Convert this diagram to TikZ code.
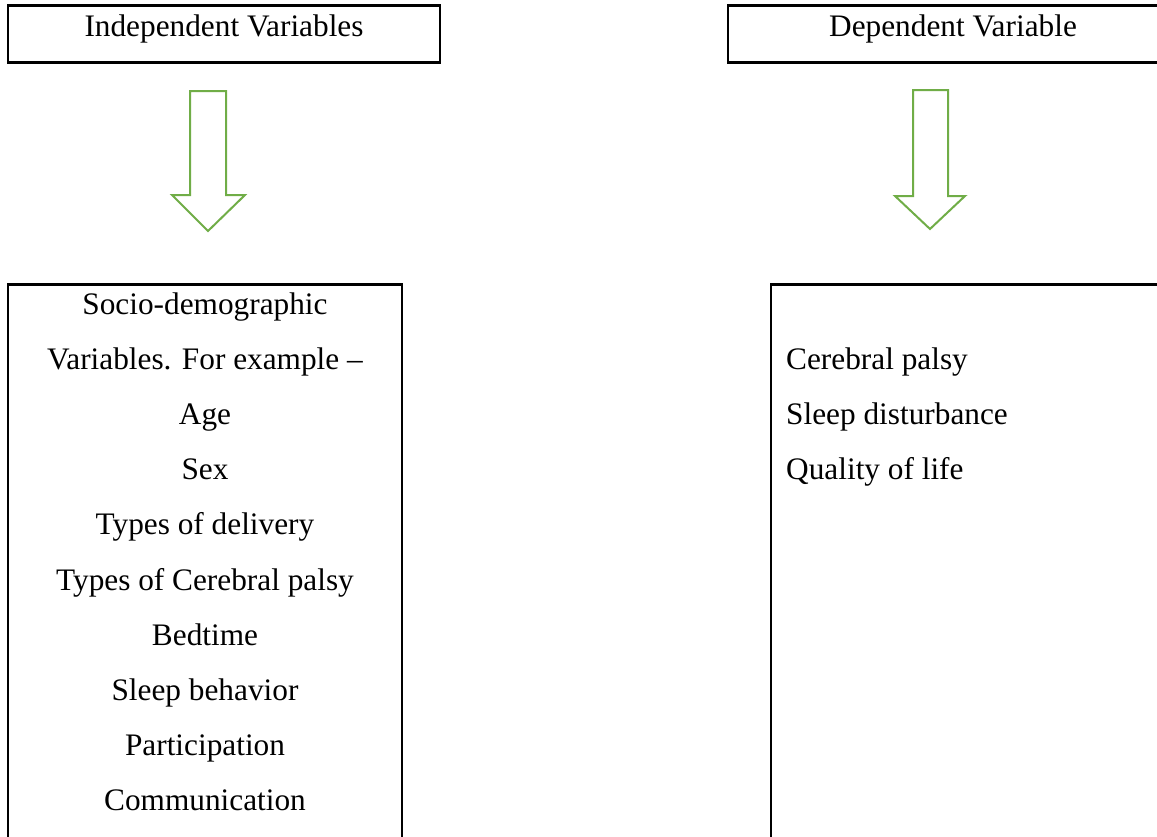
\documentclass[tikz,border=0pt]{standalone}
\usepackage{fontspec}
\setmainfont{Liberation Serif}
\definecolor{arrowgreen}{HTML}{70AD47}
\tikzset{
  framebox/.style={draw=black,line width=2.2pt},
  blockarrow/.style={draw=arrowgreen,fill=white,line width=2pt,line join=miter},
  lbl/.style={anchor=base,inner sep=0pt,font=\fontsize{31.3}{37}\selectfont},
  lblleft/.style={anchor=base west,inner sep=0pt,font=\fontsize{31.3}{37}\selectfont}
}
\begin{document}
\begin{tikzpicture}[x=1pt,y=-1pt]
\useasboundingbox (0,0) rectangle (1157,836);
\clip (0,0) rectangle (1157,836);
% header boxes
\draw[framebox] (8,5.5) rectangle (440,62.5);
\draw[framebox] (728,5.5) rectangle (1180,62.5);
\node[lbl] (indep) at (224,36) {Independent Variables};
\node[lbl] (dep) at (953,36) {Dependent Variable};
% block arrows
\draw[blockarrow] (190,91) -- (226,91) -- (226,195) -- (245,195) -- (208,231) -- (172,195) -- (190,195) -- cycle;
\draw[blockarrow] (913,90) -- (948,90) -- (948,196) -- (965,196) -- (930,229) -- (895,196) -- (913,196) -- cycle;
% lower boxes
\draw[framebox] (8,850) -- (8,284.5) -- (402,284.5) -- (402,850);
\draw[framebox] (771,850) -- (771,284.5) -- (1180,284.5);
% left column texts
\node[lbl] (l1) at (205,314.5) {Socio-demographic};
\node[lbl] (l2) at (205,369.6) {Variables. For example –};
\node[lbl] (l3) at (205,424.7) {Age};
\node[lbl] (l4) at (205,479.8) {Sex};
\node[lbl] (l5) at (205,534.9) {Types of delivery};
\node[lbl] (l6) at (205,590.0) {Types of Cerebral palsy};
\node[lbl] (l7) at (205,645.1) {Bedtime};
\node[lbl] (l8) at (205,700.2) {Sleep behavior};
\node[lbl] (l9) at (205,755.3) {Participation};
\node[lbl] (l10) at (205,810.4) {Communication};
% right column texts
\node[lblleft] (r1) at (786,369.6) {Cerebral palsy};
\node[lblleft] (r2) at (786,424.7) {Sleep disturbance};
\node[lblleft] (r3) at (786,479.8) {Quality of life};
\end{tikzpicture}
\end{document}
